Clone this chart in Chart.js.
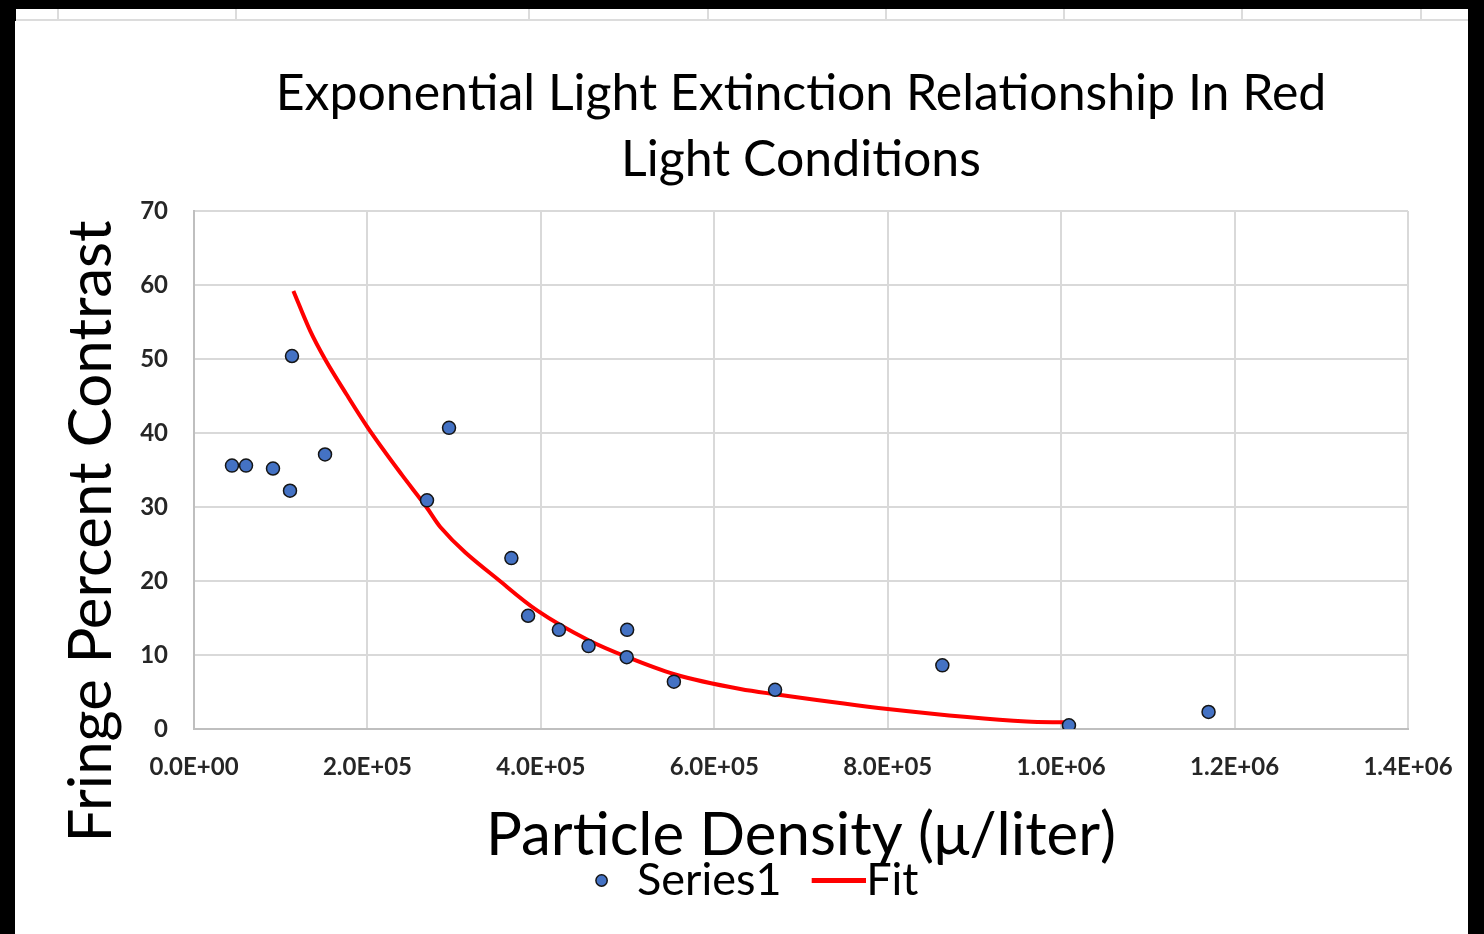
<!DOCTYPE html>
<html>
<head>
<meta charset="utf-8">
<script src="https://cdn.jsdelivr.net/npm/chart.js@4"></script>
<style>
    body  { margin: 0; background: #000; width: 1484px; height: 934px; overflow: hidden; position: relative; }
    #sheet { position: absolute; left: 16px; top: 9px; width: 1452px; height: 10px; background: #fff; border-bottom: 2px solid #dcdcdc; }
    .cell  { position: absolute; top: 0; width: 2px; height: 10px; background: #dcdcdc; }
    #wrap  { position: absolute; left: 15px; top: 21px; width: 1453px; height: 913px; background: #fff; }
</style>
</head>
<body>
<div id="sheet"></div>
<div id="wrap"><canvas id="chartDiv" width="1453" height="913"></canvas></div>
<script>
// scatter points
const seriesX = [43800, 60000, 91100, 110700, 113000, 151100, 268700, 294100, 366000, 385300,
                 420800, 455000, 499500, 499000, 553400, 670100, 863000, 1009000, 1170000];
const seriesY = [35.6, 35.6, 35.2, 32.2, 50.4, 37.1, 30.9, 40.7, 23.1, 15.3,
                 13.4, 11.2, 13.4, 9.7, 6.4, 5.3, 8.6, 0.5, 2.3];

// red fit curve, sampled along its drawn path
const fitX = [114600, 134000, 151000, 176000, 200000, 240000, 268000, 284000, 361000, 396000,
              455000, 500000, 554000, 630000, 670000, 800000, 960000, 1005000];
const fitY = [59.2, 53.8, 50.0, 45.2, 40.8, 34.3, 30.0, 27.3, 19.2, 16.0,
              12.0, 9.7, 7.4, 5.4, 4.7, 2.7, 1.0, 0.9];

const xTickLabels = ["0.0E+00", "2.0E+05", "4.0E+05", "6.0E+05", "8.0E+05", "1.0E+06", "1.2E+06", "1.4E+06"];
const yTicks = [0, 10, 20, 30, 40, 50, 60, 70];

const titleLines = ["Exponential Light Extinction Relationship In Red", "Light Conditions"];
const xTitle = "Particle Density (μ/liter)";
const yTitle = "Fringe Percent Contrast";

// spreadsheet cell lines peeking above the chart
const sheet = document.getElementById("sheet");
[41, 219, 512, 691, 869, 1047, 1225, 1404].forEach(x => {
    const d = document.createElement("div");
    d.className = "cell";
    d.style.left = x + "px";
    sheet.appendChild(d);
});

// legend icon for the fit line
const lineIcon = document.createElement("canvas");
lineIcon.width = 70;
lineIcon.height = 5;
const lctx = lineIcon.getContext("2d");
lctx.fillStyle = "#ff0000";
lctx.fillRect(16, 0, 54, 5);

const FONT = "Lato";

new Chart(document.getElementById("chartDiv"), {
    type: "scatter",
    data: {
        datasets: [{
            label: "Series1",
            data: seriesX.map((x, i) => ({ x: x, y: seriesY[i] })),
            backgroundColor: "#4472C4",
            borderColor: "#151515",
            borderWidth: 1.5,
            pointRadius: 6.5,
            pointHoverRadius: 6.5,
            order: 0
        }, {
            label: "Fit",
            data: fitX.map((x, i) => ({ x: x, y: fitY[i] })),
            showLine: true,
            borderColor: "#ff0000",
            backgroundColor: "#ff0000",
            borderWidth: 4,
            pointRadius: 0,
            pointStyle: lineIcon,
            cubicInterpolationMode: "monotone",
            order: 1
        }]
    },
    options: {
        responsive: false,
        animation: false,
        layout: { padding: { left: 84, right: 60, top: 0, bottom: 21 } },
        plugins: {
            tooltip: { enabled: false },
            title: {
                display: true,
                text: titleLines,
                fullSize: false,
                color: "#000",
                font: { family: FONT, size: 50, weight: "normal", lineHeight: 1.32 },
                padding: { top: 40, bottom: 18 }
            },
            legend: {
                position: "bottom",
                labels: {
                    usePointStyle: true,
                    boxWidth: 26,
                    boxHeight: 8,
                    padding: 36,
                    color: "#000",
                    font: { family: FONT, size: 45 }
                }
            }
        },
        scales: {
            x: {
                type: "linear",
                min: 0,
                max: 1400000,
                ticks: {
                    stepSize: 200000,
                    autoSkip: false,
                    maxRotation: 0,
                    padding: 24,
                    color: "#262626",
                    font: { family: FONT, size: 24, weight: "bold" },
                    callback: (v, i) => xTickLabels[i]
                },
                grid: { color: "#d9d9d9", lineWidth: 2, drawTicks: false },
                border: { color: "#bfbfbf", width: 2 },
                title: {
                    display: true,
                    text: xTitle,
                    color: "#000",
                    font: { family: FONT, size: 60, lineHeight: 1 },
                    padding: { top: 0, bottom: -44 }
                },
                afterFit: s => { s.height = 93; s.paddingRight = 0; }
            },
            y: {
                min: 0,
                max: 70,
                afterBuildTicks: s => { s.ticks = yTicks.map(v => ({ value: v })); },
                ticks: {
                    padding: 26,
                    color: "#262626",
                    font: { family: FONT, size: 24, weight: "bold" }
                },
                grid: { color: "#d9d9d9", lineWidth: 2, drawTicks: false },
                border: { color: "#bfbfbf", width: 2 },
                title: {
                    display: true,
                    text: yTitle + " ".repeat(8),
                    color: "#000",
                    font: { family: FONT, size: 60, lineHeight: 1 },
                    padding: { top: -37, bottom: 0 }
                },
                afterFit: s => { s.width = 95; }
            }
        }
    }
});
</script>
</body>
</html>
